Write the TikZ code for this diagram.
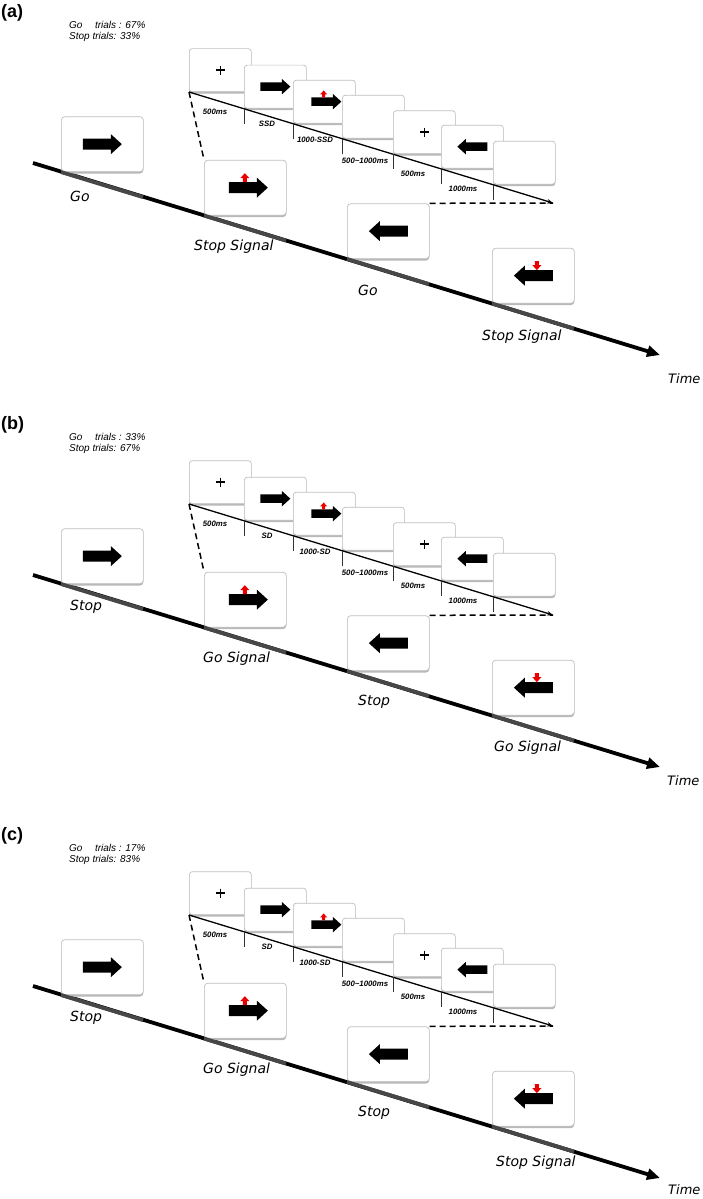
\documentclass[tikz,border=0pt]{standalone}
\usepackage{fontspec}
\setmainfont{Liberation Sans}
\newfontfamily\dvs{DejaVu Sans}
\usetikzlibrary{arrows.meta,shadows}
\definecolor{sigred}{RGB}{235,0,0}
\tikzset{
  mainbox/.style={rectangle, rounded corners=3.5pt, minimum width=82pt, minimum height=55pt,
    inner sep=0pt, fill=white, draw=gray!50, line width=0.7pt, anchor=south west,
    general shadow={shadow xshift=0pt, shadow yshift=-2pt, fill=gray!55}},
  tbox/.style={mainbox, minimum width=62pt, minimum height=43pt, rounded corners=3pt},
  mainline/.style={line width=3.8pt, -{Triangle[length=13pt,width=11pt]}},
  shadeseg/.style={line width=3.8pt, black!72},
  tline/.style={line width=1.3pt, -{Stealth[length=6pt,width=4.5pt]}},
  tickmark/.style={line width=0.6pt, black!80},
  dashconn/.style={line width=1.5pt, dash pattern=on 6pt off 4pt},
  tlabel/.style={font=\fontsize{7.8}{9}\selectfont\bfseries\itshape, inner sep=0pt},
  cond/.style={font=\dvs\itshape\fontsize{14}{16}\selectfont, anchor=west, inner sep=0pt},
  timelbl/.style={font=\dvs\itshape\fontsize{13}{15}\selectfont, anchor=west, inner sep=0pt},
  panellbl/.style={font=\bfseries\fontsize{18}{20}\selectfont, anchor=west, inner sep=0pt},
  stats/.style={font=\itshape\fontsize{10}{12}\selectfont, anchor=west, inner sep=0pt},
  plusmark/.style={line width=1.5pt},
  rarr/.pic={\fill (-19.5,-5.5) -- (8.5,-5.5) -- (8.5,-10) -- (19.5,0) -- (8.5,10) -- (8.5,5.5) -- (-19.5,5.5) -- cycle;},
  larr/.pic={\fill (19.5,-5.5) -- (-8.5,-5.5) -- (-8.5,-10) -- (-19.5,0) -- (-8.5,10) -- (-8.5,5.5) -- (19.5,5.5) -- cycle;},
  rstop/.pic={\fill (-19.5,-5.5) -- (8.5,-5.5) -- (8.5,-10) -- (19.5,0) -- (8.5,10) -- (8.5,5.5) -- (-19.5,5.5) -- cycle;
     \fill[sigred] (-5.5,-5.5) -- (-5.5,-9.5) -- (-8,-9.5) -- (-3.5,-14.5) -- (1,-9.5) -- (-1.5,-9.5) -- (-1.5,-5.5) -- cycle;},
  lstop/.pic={\fill (19.5,-5.5) -- (-8.5,-5.5) -- (-8.5,-10) -- (-19.5,0) -- (-8.5,10) -- (-8.5,5.5) -- (19.5,5.5) -- cycle;
     \fill[sigred] (1.5,-14.5) -- (1.5,-10.5) -- (-1,-10.5) -- (3.5,-5.5) -- (8,-10.5) -- (5.5,-10.5) -- (5.5,-14.5) -- cycle;},
  plus/.pic={\draw[plusmark] (-4.5,0) -- (4.5,0) (0,-4.5) -- (0,4.5);}
}
\newcommand\panelbody[2]{%
  % main time axis
  \coordinate (ms) at (33,163);
  \coordinate (me) at (660,355);
  \draw[mainline] (ms) -- (me);
  \node[mainbox] (b1) at (61,172) {};
  \node[mainbox] (b2) at (204,215.5) {};
  \node[mainbox] (b3) at (347,259) {};
  \node[mainbox] (b4) at (492,303.5) {};
  \draw[shadeseg] (b1.south west) -- ++(82,25.1);
  \draw[shadeseg] (b2.south west) -- ++(82,25.1);
  \draw[shadeseg] (b3.south west) -- ++(82,25.1);
  \draw[shadeseg] (b4.south west) -- ++(82,25.1);
  \pic at (b1.center) {rarr};
  \pic at ([xshift=3pt]b2.center) {rstop};
  \pic at (b3.center) {larr};
  \pic at (b4.center) {lstop};
  % trial sequence
  \node[tbox] (tA) at (189,92) {};
  \node[tbox] (tB) at (244,108.5) {};
  \node[tbox] (tC) at (293,123.5) {};
  \node[tbox] (tD) at (342,138.5) {};
  \node[tbox] (tE) at (393,154) {};
  \node[tbox] (tF) at (441,168.5) {};
  \node[tbox] (tG) at (493,184.5) {};
  \pic at (tA.center) {plus};
  \pic[scale=.77] at (tB.center) {rarr};
  \pic[scale=.77] at ([xshift=2pt]tC.center) {rstop};
  \pic at (tE.center) {plus};
  \pic[scale=.77] at (tF.center) {larr};
  \coordinate (te) at (553,203);
  \draw[tline] (tA.south west) -- (te);
  \foreach \b in {tB,tC,tD,tE,tF,tG} {\draw[tickmark] (\b.south west) -- ++(0,15);}
  \node[tlabel] (l1) at (215,112) {500ms};
  \node[tlabel] (l2) at (267,124) {#1};
  \node[tlabel] (l3) at (315,140) {#2};
  \node[tlabel] (l4) at (365,161) {500\textasciitilde1000ms};
  \node[tlabel] (l5) at (413,174) {500ms};
  \node[tlabel] (l6) at (463,189) {1000ms};
  \draw[dashconn] (tA.south west) -- (b2.north west);
  \draw[dashconn] (b3.north east) -- (te);
}
\begin{document}
\begin{tikzpicture}[x=1pt,y=-1pt]
\useasboundingbox (0,0) rectangle (703,1199);
% ---------- (a)
\begin{scope}[name prefix=a-]
  \panelbody{SSD}{1000-SSD}
  \node[panellbl] (pl) at (1,13) {(a)};
  \node[stats] (s1) at (69,25) {Go\hspace{12.5pt}trials : 67\%};
  \node[stats] (s2) at (69,37) {Stop trials: 33\%};
  \node[cond] (c1) at (70,196) {Go};
  \node[cond] (c2) at (194,247) {Stop Signal};
  \node[cond] (c3) at (358,290) {Go};
  \node[cond] (c4) at (482,337) {Stop Signal};
  \node[timelbl] (tm) at (668,379) {Time};
\end{scope}
% ---------- (b)
\begin{scope}[shift={(0,412)}, name prefix=b-]
  \panelbody{SD}{1000-SD}
  \node[panellbl] (pl) at (1,13) {(b)};
  \node[stats] (s1) at (69,25) {Go\hspace{12.5pt}trials : 33\%};
  \node[stats] (s2) at (69,37) {Stop trials: 67\%};
  \node[cond] (c1) at (70,195) {Stop};
  \node[cond] (c2) at (203,247) {Go Signal};
  \node[cond] (c3) at (358,290) {Stop};
  \node[cond] (c4) at (494,336) {Go Signal};
  \node[timelbl] (tm) at (667,369) {Time};
\end{scope}
% ---------- (c)
\begin{scope}[shift={(0,823)}, name prefix=c-]
  \panelbody{SD}{1000-SD}
  \node[panellbl] (pl) at (1,13) {(c)};
  \node[stats] (s1) at (69,25) {Go\hspace{12.5pt}trials : 17\%};
  \node[stats] (s2) at (69,37) {Stop trials: 83\%};
  \node[cond] (c1) at (70,195) {Stop};
  \node[cond] (c2) at (203,247) {Go Signal};
  \node[cond] (c3) at (358,290) {Stop};
  \node[cond] (c4) at (496,340) {Stop Signal};
  \node[timelbl] (tm) at (668,367) {Time};
\end{scope}
\end{tikzpicture}
\end{document}
